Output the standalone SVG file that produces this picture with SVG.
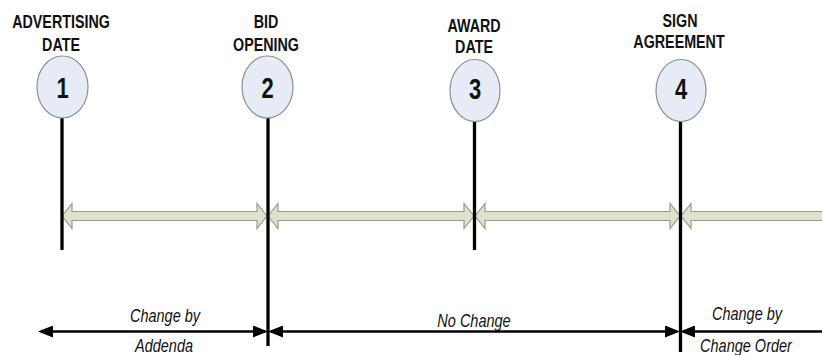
<svg xmlns="http://www.w3.org/2000/svg" width="822" height="355" viewBox="0 0 822 355">
  <style>
    .head { font-family: "Liberation Sans", Arial, sans-serif; font-weight: bold; font-size: 14.3px; fill: #111; text-anchor: middle; }
    .num { font-family: "Liberation Sans", Arial, sans-serif; font-weight: bold; font-size: 22px; fill: #111; text-anchor: middle; }
    .note { font-family: "Liberation Sans", Arial, sans-serif; font-style: italic; font-size: 14.5px; fill: #111; text-anchor: middle; }
    .bubble { fill: #e6ebf6; stroke: #8f8f8f; stroke-width: 1.2; }
    .stem { stroke: #000; stroke-width: 3.3; fill: none; }
    .span { fill: #dde2cb; stroke: #9a9b8c; stroke-width: 1.2; }
    .dim { stroke: #000; stroke-width: 2.5; fill: none; marker-start: url(#tip); marker-end: url(#tip); }
  </style>
  <defs>
    <marker id="tip" viewBox="0 0 15 12" refX="12" refY="6" markerUnits="userSpaceOnUse" markerWidth="15" markerHeight="12" orient="auto-start-reverse">
      <path d="M0,0 L15,6 L0,12 Z" fill="#000"/>
    </marker>
  </defs>
  <rect width="822" height="355" fill="#fff"/>

  <!-- double-headed spans between milestones, then dimension arrows -->
  <g id="connectors">
    <path class="span" d="M62,216 L72,203.5 L72,211.5 L257,211.5 L257,203.5 L267,216 L257,228.5 L257,220.5 L72,220.5 L72,228.5 Z"/>
    <path class="span" d="M268,216 L278,203.5 L278,211.5 L464,211.5 L464,203.5 L474,216 L464,228.5 L464,220.5 L278,220.5 L278,228.5 Z"/>
    <path class="span" d="M475,216 L485,203.5 L485,211.5 L670,211.5 L670,203.5 L680,216 L670,228.5 L670,220.5 L485,220.5 L485,228.5 Z"/>
    <path class="span" d="M681,216 L691,203.5 L691,211.5 L830,211.5 L830,220.5 L691,220.5 L691,228.5 Z"/>

    <line class="dim" x1="41" y1="331.5" x2="265" y2="331.5"/>
    <line class="dim" x1="271" y1="331.5" x2="677" y2="331.5"/>
    <line class="stem" x1="683" y1="331.5" x2="830" y2="331.5" style="stroke-width:2.5;marker-start:url(#tip)"/>
  </g>

  <g id="m1">
    <line class="stem" x1="62" y1="117" x2="62" y2="250"/>
    <ellipse class="bubble" cx="62.5" cy="87" rx="25.5" ry="31"/>
    <text class="num" transform="translate(62.5,97.5) scale(1,1.3)">1</text>
    <text class="head" transform="translate(61,28) scale(1,1.3)">ADVERTISING</text>
    <text class="head" transform="translate(61,51) scale(1,1.3)">DATE</text>
  </g>

  <g id="m2">
    <line class="stem" x1="268" y1="117" x2="268" y2="346"/>
    <ellipse class="bubble" cx="267.5" cy="87" rx="25.5" ry="31"/>
    <text class="num" transform="translate(267.5,97.5) scale(1,1.3)">2</text>
    <text class="head" transform="translate(266,28) scale(1,1.3)">BID</text>
    <text class="head" transform="translate(266,51) scale(1,1.3)">OPENING</text>
  </g>

  <g id="m3">
    <line class="stem" x1="474.5" y1="121" x2="474.5" y2="250"/>
    <ellipse class="bubble" cx="475" cy="90.5" rx="25" ry="31"/>
    <text class="num" transform="translate(475,99) scale(1,1.3)">3</text>
    <text class="head" transform="translate(474,32) scale(1,1.3)">AWARD</text>
    <text class="head" transform="translate(474,53) scale(1,1.3)">DATE</text>
  </g>

  <g id="m4">
    <line class="stem" x1="680.5" y1="121" x2="680.5" y2="352"/>
    <ellipse class="bubble" cx="681" cy="90.5" rx="25" ry="31"/>
    <text class="num" transform="translate(681,99) scale(1,1.3)">4</text>
    <text class="head" transform="translate(680,27) scale(1,1.3)">SIGN</text>
    <text class="head" transform="translate(679,48) scale(1,1.3)">AGREEMENT</text>
  </g>

  <g id="labels">
    <text class="note" transform="translate(165,322) scale(1,1.25)">Change by</text>
    <text class="note" transform="translate(164,352) scale(1,1.25)">Addenda</text>
    <text class="note" transform="translate(474,327) scale(1,1.25)">No Change</text>
    <text class="note" transform="translate(747,320) scale(1,1.25)">Change by</text>
    <text class="note" transform="translate(746,352) scale(1,1.25)">Change Order</text>
  </g>
</svg>
